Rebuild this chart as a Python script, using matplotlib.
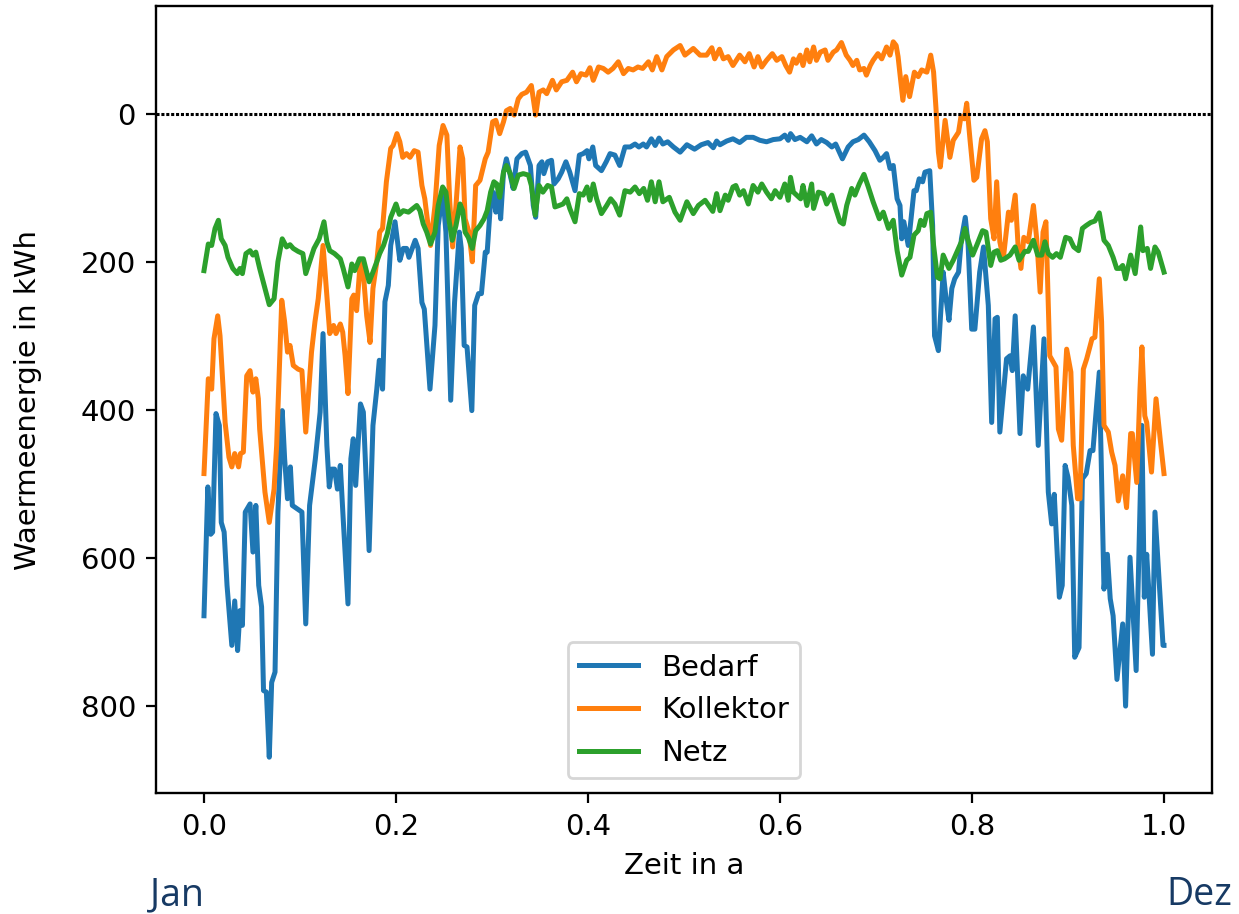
import matplotlib
matplotlib.use("Agg")
import matplotlib.pyplot as plt

# Zeit in a (Jahresanteil) und Waermeenergie in kWh
bedarf_t = [0.000, 0.004, 0.007, 0.009, 0.0125, 0.016, 0.018, 0.021, 0.024, 0.029,
            0.032, 0.035, 0.0375, 0.040, 0.043, 0.048, 0.051, 0.054, 0.057, 0.060,
            0.062, 0.065, 0.068, 0.0705, 0.074, 0.077, 0.0815, 0.084, 0.087, 0.090,
            0.092, 0.102, 0.106, 0.110, 0.116, 0.121, 0.124, 0.128, 0.1305, 0.133,
            0.136, 0.139, 0.142, 0.145, 0.150, 0.153, 0.1555, 0.158, 0.163, 0.166,
            0.172, 0.176, 0.180, 0.1826, 0.186, 0.1885, 0.192, 0.1945, 0.199, 0.204,
            0.2076, 0.211, 0.2135, 0.220, 0.223, 0.227, 0.2295, 0.2354, 0.2406, 0.244,
            0.2486, 0.252, 0.257, 0.261, 0.266, 0.268, 0.271, 0.274, 0.279, 0.282,
            0.286, 0.289, 0.293, 0.295, 0.299, 0.301, 0.304, 0.3066, 0.309, 0.312,
            0.315, 0.319, 0.322, 0.326, 0.331, 0.335, 0.340, 0.343, 0.3455, 0.349,
            0.352, 0.354, 0.358, 0.362, 0.3646, 0.369, 0.3726, 0.377, 0.381, 0.3865,
            0.391, 0.395, 0.399, 0.401, 0.405, 0.408, 0.414, 0.419, 0.423, 0.428,
            0.433, 0.4385, 0.444, 0.449, 0.453, 0.4576, 0.461, 0.466, 0.470, 0.474,
            0.478, 0.483, 0.489, 0.496, 0.503, 0.511, 0.518, 0.525, 0.5305, 0.534,
            0.5375, 0.5445, 0.551, 0.558, 0.565, 0.572, 0.579, 0.586, 0.593, 0.600,
            0.605, 0.6086, 0.611, 0.6156, 0.621, 0.628, 0.633, 0.638, 0.643, 0.6486,
            0.654, 0.658, 0.665, 0.671, 0.676, 0.6816, 0.6875, 0.693, 0.699, 0.704,
            0.7076, 0.711, 0.7146, 0.718, 0.722, 0.725, 0.7268, 0.729, 0.7336, 0.7396,
            0.742, 0.745, 0.7486, 0.751, 0.756, 0.759, 0.761, 0.765, 0.770, 0.773,
            0.776, 0.779, 0.782, 0.786, 0.789, 0.793, 0.796, 0.7997, 0.803, 0.808,
            0.812, 0.817, 0.8205, 0.824, 0.8264, 0.829, 0.836, 0.8396, 0.842, 0.845,
            0.850, 0.8534, 0.858, 0.864, 0.869, 0.875, 0.8795, 0.883, 0.8857, 0.891,
            0.894, 0.897, 0.900, 0.904, 0.907, 0.9115, 0.915, 0.919, 0.923, 0.926,
            0.9326, 0.9375, 0.941, 0.944, 0.947, 0.951, 0.957, 0.960, 0.9646, 0.971,
            0.977, 0.9795, 0.982, 0.988, 0.9906, 0.999, 1.000]
bedarf_kwh = [678, 504, 568, 565, 405, 421, 552, 565, 637, 718,
              658, 725, 671, 691, 538, 527, 592, 529, 637, 666,
              779, 781, 869, 768, 754, 538, 401, 466, 520, 477,
              529, 538, 689, 529, 466, 403, 297, 448, 504, 480,
              480, 507, 475, 547, 662, 466, 439, 502, 392, 403,
              590, 421, 372, 333, 372, 254, 232, 178, 146, 198,
              182, 182, 194, 171, 182, 255, 264, 372, 286, 151,
              106, 160, 387, 255, 160, 182, 313, 315, 401, 259,
              243, 243, 187, 187, 110, 106, 133, 101, 142, 79,
              61, 83, 101, 61, 54, 52, 70, 124, 140, 70,
              65, 81, 65, 63, 95, 88, 79, 65, 79, 104,
              56, 54, 50, 61, 45, 70, 77, 65, 54, 56,
              70, 45, 45, 41, 45, 41, 45, 34, 43, 33,
              41, 38, 45, 52, 42, 48, 42, 39, 46, 37,
              42, 37, 34, 39, 32, 32, 36, 38, 35, 34,
              29, 36, 27, 35, 32, 38, 30, 41, 35, 39,
              45, 41, 61, 45, 38, 35, 29, 38, 50, 63,
              59, 54, 74, 70, 115, 124, 169, 146, 178, 104,
              104, 88, 92, 79, 77, 151, 300, 320, 214, 250,
              279, 236, 223, 214, 169, 140, 178, 291, 291, 214,
              180, 259, 417, 277, 275, 430, 331, 327, 347, 273,
              432, 354, 372, 288, 448, 304, 511, 554, 514, 653,
              637, 475, 491, 529, 734, 721, 493, 486, 455, 455,
              349, 642, 595, 655, 678, 764, 689, 800, 599, 752,
              421, 653, 595, 730, 538, 718, 718]

kollektor_t = [0.000, 0.0045, 0.008, 0.0104, 0.0143, 0.0167, 0.020, 0.022, 0.026, 0.029,
               0.032, 0.036, 0.038, 0.041, 0.0445, 0.048, 0.051, 0.054, 0.0566, 0.058,
               0.0635, 0.068, 0.073, 0.0757, 0.081, 0.084, 0.087, 0.0896, 0.093, 0.098,
               0.102, 0.106, 0.112, 0.1156, 0.119, 0.124, 0.128, 0.131, 0.135, 0.1375,
               0.142, 0.1445, 0.147, 0.150, 0.154, 0.156, 0.159, 0.1625, 0.165, 0.1695,
               0.173, 0.176, 0.180, 0.183, 0.186, 0.190, 0.1945, 0.197, 0.201, 0.204,
               0.207, 0.211, 0.2146, 0.219, 0.223, 0.227, 0.230, 0.236, 0.2406, 0.245,
               0.249, 0.253, 0.256, 0.259, 0.2625, 0.2667, 0.2695, 0.272, 0.276, 0.2795,
               0.283, 0.2875, 0.293, 0.296, 0.3007, 0.304, 0.308, 0.312, 0.315, 0.319,
               0.323, 0.3274, 0.331, 0.336, 0.341, 0.3455, 0.349, 0.3534, 0.357, 0.363,
               0.367, 0.3726, 0.378, 0.384, 0.388, 0.3927, 0.398, 0.402, 0.4055, 0.411,
               0.416, 0.421, 0.426, 0.4316, 0.437, 0.442, 0.447, 0.452, 0.457, 0.463,
               0.467, 0.4716, 0.477, 0.482, 0.489, 0.496, 0.501, 0.5097, 0.5167, 0.5236,
               0.529, 0.532, 0.537, 0.541, 0.546, 0.551, 0.558, 0.5635, 0.568, 0.573,
               0.577, 0.581, 0.586, 0.592, 0.5966, 0.602, 0.606, 0.610, 0.614, 0.617,
               0.621, 0.624, 0.628, 0.631, 0.635, 0.638, 0.642, 0.647, 0.650, 0.6555,
               0.659, 0.664, 0.669, 0.673, 0.676, 0.680, 0.683, 0.6875, 0.690, 0.694,
               0.697, 0.702, 0.706, 0.711, 0.7146, 0.718, 0.721, 0.723, 0.728, 0.731,
               0.735, 0.740, 0.744, 0.7476, 0.753, 0.757, 0.760, 0.7625, 0.765, 0.767,
               0.772, 0.777, 0.7805, 0.786, 0.7885, 0.792, 0.7945, 0.798, 0.802, 0.805,
               0.810, 0.8135, 0.816, 0.8195, 0.823, 0.8257, 0.829, 0.8326, 0.838, 0.841,
               0.845, 0.848, 0.851, 0.854, 0.8586, 0.864, 0.8674, 0.871, 0.874, 0.877,
               0.881, 0.8875, 0.890, 0.8934, 0.8986, 0.903, 0.9055, 0.910, 0.9125, 0.916,
               0.9195, 0.925, 0.928, 0.9326, 0.935, 0.9375, 0.942, 0.9455, 0.949, 0.9524,
               0.957, 0.961, 0.9653, 0.967, 0.9716, 0.975, 0.977, 0.980, 0.982, 0.987,
               0.9917, 0.996, 1.000]
kollektor_kwh = [486, 358, 372, 304, 273, 300, 374, 417, 464, 477,
                 459, 477, 459, 457, 354, 347, 376, 358, 385, 426,
                 511, 552, 507, 448, 252, 281, 322, 313, 340, 345,
                 347, 430, 322, 281, 250, 178, 245, 297, 286, 297,
                 284, 295, 327, 378, 250, 245, 266, 205, 200, 273,
                 309, 236, 200, 160, 155, 92, 47, 43, 27, 38,
                 59, 54, 59, 50, 52, 97, 115, 178, 124, 43,
                 16, 29, 119, 180, 124, 45, 61, 142, 160, 200,
                 97, 90, 61, 52, 11, 9, 27, 11, -4, -7,
                 2, -20, -26, -29, -38, 2, -29, -32, -27, -45,
                 -32, -43, -45, -56, -43, -54, -52, -62, -45, -63,
                 -61, -56, -61, -70, -54, -61, -59, -63, -61, -70,
                 -59, -77, -59, -77, -86, -92, -79, -88, -79, -79,
                 -89, -74, -87, -74, -77, -65, -79, -70, -81, -63,
                 -77, -63, -72, -81, -72, -77, -65, -56, -74, -68,
                 -79, -65, -86, -70, -90, -72, -83, -86, -72, -83,
                 -86, -96, -79, -72, -65, -72, -59, -61, -52, -65,
                 -72, -81, -74, -90, -79, -97, -92, -77, -18, -50,
                 -23, -56, -50, -59, -56, -79, -56, -7, 52, 72,
                 9, 59, 36, 25, 4, 7, -14, 36, 90, 86,
                 34, 23, 38, 142, 169, 92, 173, 196, 133, 144,
                 110, 178, 209, 167, 173, 124, 169, 241, 160, 146,
                 327, 342, 426, 441, 318, 349, 448, 520, 520, 345,
                 331, 304, 302, 223, 281, 421, 430, 457, 475, 523,
                 489, 532, 432, 432, 498, 372, 315, 408, 417, 484,
                 385, 439, 486]

netz_t = [0.000, 0.0045, 0.008, 0.0115, 0.015, 0.018, 0.022, 0.025, 0.030, 0.0347,
          0.0375, 0.040, 0.0437, 0.048, 0.051, 0.054, 0.058, 0.0635, 0.068, 0.073,
          0.077, 0.0815, 0.086, 0.0896, 0.093, 0.098, 0.103, 0.106, 0.110, 0.1146,
          0.120, 0.125, 0.128, 0.131, 0.136, 0.142, 0.145, 0.150, 0.154, 0.157,
          0.162, 0.166, 0.172, 0.176, 0.180, 0.183, 0.187, 0.191, 0.1945, 0.200,
          0.2035, 0.2076, 0.213, 0.2216, 0.225, 0.2284, 0.232, 0.236, 0.2406, 0.244,
          0.2486, 0.252, 0.2555, 0.2586, 0.2625, 0.2667, 0.2695, 0.272, 0.2753, 0.2795,
          0.283, 0.2875, 0.2917, 0.295, 0.2986, 0.302, 0.305, 0.308, 0.312, 0.315,
          0.319, 0.323, 0.3274, 0.3326, 0.338, 0.341, 0.345, 0.349, 0.353, 0.358,
          0.362, 0.3656, 0.370, 0.374, 0.378, 0.381, 0.3865, 0.391, 0.395, 0.399,
          0.402, 0.4055, 0.409, 0.414, 0.4195, 0.4236, 0.428, 0.433, 0.4385, 0.444,
          0.449, 0.4535, 0.458, 0.462, 0.466, 0.470, 0.474, 0.478, 0.4847, 0.4906,
          0.496, 0.503, 0.5097, 0.515, 0.522, 0.530, 0.534, 0.5375, 0.543, 0.546,
          0.551, 0.554, 0.558, 0.562, 0.567, 0.572, 0.577, 0.581, 0.586, 0.591,
          0.595, 0.600, 0.605, 0.6086, 0.611, 0.614, 0.6215, 0.624, 0.628, 0.633,
          0.635, 0.640, 0.645, 0.6486, 0.654, 0.658, 0.6625, 0.666, 0.6695, 0.6747,
          0.678, 0.6826, 0.6875, 0.692, 0.697, 0.7035, 0.7076, 0.713, 0.718, 0.722,
          0.7268, 0.732, 0.7354, 0.7396, 0.744, 0.7465, 0.750, 0.753, 0.757, 0.760,
          0.764, 0.7667, 0.770, 0.776, 0.7805, 0.786, 0.789, 0.7927, 0.796, 0.8007,
          0.8055, 0.811, 0.8146, 0.8195, 0.823, 0.8264, 0.830, 0.834, 0.8396, 0.845,
          0.849, 0.855, 0.8586, 0.864, 0.8684, 0.8726, 0.876, 0.8795, 0.884, 0.888,
          0.892, 0.8976, 0.902, 0.906, 0.911, 0.915, 0.919, 0.9236, 0.928, 0.9326,
          0.9375, 0.942, 0.947, 0.9507, 0.954, 0.957, 0.960, 0.9653, 0.970, 0.9757,
          0.978, 0.9826, 0.986, 0.9906, 0.994, 1.000]
netz_kwh = [212, 176, 178, 155, 144, 169, 178, 194, 209, 216,
            209, 216, 189, 185, 191, 187, 209, 236, 258, 250,
            200, 169, 180, 177, 182, 186, 189, 216, 200, 182,
            169, 146, 173, 185, 189, 196, 209, 234, 203, 212,
            196, 196, 227, 214, 200, 189, 178, 162, 140, 122,
            136, 131, 133, 124, 131, 149, 160, 176, 160, 124,
            99, 106, 146, 171, 151, 122, 131, 160, 167, 182,
            158, 151, 142, 131, 106, 92, 95, 113, 79, 70,
            81, 101, 83, 81, 83, 97, 137, 97, 106, 97,
            99, 126, 124, 122, 115, 128, 146, 108, 110, 99,
            117, 95, 115, 135, 124, 115, 122, 137, 104, 106,
            99, 108, 101, 117, 92, 119, 92, 119, 113, 133,
            144, 119, 135, 124, 117, 132, 108, 131, 110, 117,
            99, 97, 110, 104, 122, 97, 106, 95, 106, 115,
            104, 113, 95, 117, 86, 106, 115, 97, 124, 95,
            128, 106, 108, 122, 110, 128, 146, 149, 124, 101,
            110, 95, 82, 99, 119, 142, 133, 155, 144, 185,
            218, 198, 194, 164, 158, 144, 151, 135, 133, 178,
            221, 223, 191, 209, 198, 182, 173, 155, 171, 191,
            176, 158, 160, 205, 187, 185, 198, 196, 191, 180,
            198, 186, 186, 171, 191, 191, 173, 189, 194, 189,
            194, 167, 169, 180, 185, 155, 151, 147, 145, 134,
            171, 178, 194, 209, 209, 205, 223, 191, 216, 153,
            185, 182, 209, 180, 187, 214]

plt.rcParams["font.size"] = 10.5
plt.rcParams["lines.linewidth"] = 1.8
plt.rcParams["axes.linewidth"] = 0.85
plt.rcParams["xtick.major.size"] = 3.7
plt.rcParams["ytick.major.size"] = 3.7

fig = plt.figure(figsize=(6.195, 4.57), dpi=200)
ax = fig.add_axes([0.1259, 0.1324, 0.8523, 0.861])

ax.plot(bedarf_t, bedarf_kwh, label="Bedarf")
ax.plot(kollektor_t, kollektor_kwh, label="Kollektor")
ax.plot(netz_t, netz_kwh, label="Netz")
ax.axhline(0, color="k", linewidth=1.1, dashes=(1, 0.6))

ax.invert_yaxis()
ax.set_xlabel("Zeit in a")
ax.set_ylabel("Waermeenergie in kWh", labelpad=14)
ax.legend(loc="lower center")

fig.text(0.121, 0.0098, "Jan", family="Open Sans", fontsize=13.5,
         color="#173a64", ha="left", va="baseline")
fig.text(0.9943, 0.0098, "Dez", family="Open Sans", fontsize=13.5,
         color="#173a64", ha="right", va="baseline")

fig.savefig("out.png", dpi=200)
